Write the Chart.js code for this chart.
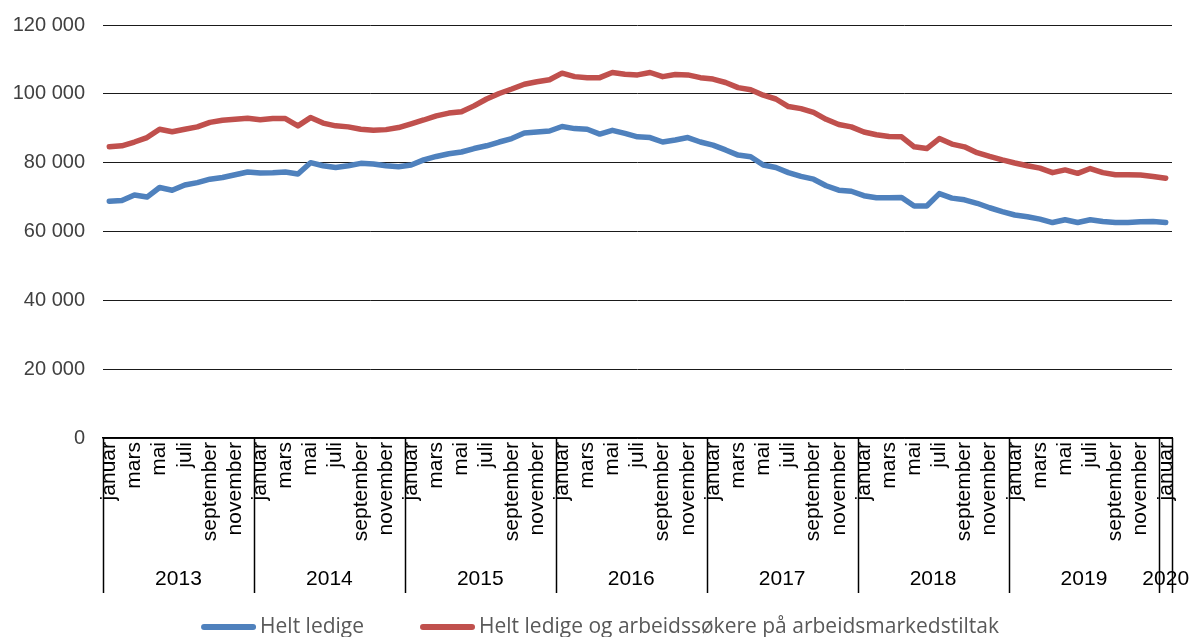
<!DOCTYPE html>
<html>
<head>
<meta charset="utf-8">
<script src="https://cdn.jsdelivr.net/npm/chart.js@4"></script>
<style>
  html, body { margin: 0; padding: 0; background: #fff; }
  #wrap { width: 1190px; height: 637px; position: relative; }
</style>
</head>
<body>
<div id="wrap"><canvas id="chart"></canvas></div>
<script>
// Månedsnavn og år (akse)
const monthNames = ['januar', 'februar', 'mars', 'april', 'mai', 'juni',
    'juli', 'august', 'september', 'oktober', 'november', 'desember'];
const years = ['2013', '2014', '2015', '2016', '2017', '2018', '2019', '2020'];

// Helt ledige, jan 2013 - jan 2020
const heltLedige = [
    68800, 69000, 70600, 70000, 72800, 72000, 73500, 74200, 75200, 75700, 76500, 77300,
    77000, 77100, 77300, 76700, 80000, 79100, 78600, 79100, 79800, 79600, 79100, 78800,
    79300, 80800, 81800, 82600, 83100, 84100, 84900, 86000, 87000, 88600, 88900, 89200,
    90500, 89900, 89700, 88300, 89400, 88500, 87500, 87300, 86000, 86600, 87300, 86000,
    85100, 83700, 82200, 81700, 79300, 78600, 77100, 76000, 75200, 73300, 72000, 71700,
    70400, 69800, 69800, 69900, 67400, 67400, 71000, 69700, 69200, 68200, 66900, 65800,
    64800, 64300, 63600, 62600, 63400, 62600, 63400, 62900, 62600, 62600, 62800, 62900,
    62600
];

// Helt ledige og arbeidssøkere på tiltak
const medTiltak = [
    84600, 84900, 86000, 87300, 89700, 89000, 89700, 90400, 91700, 92300, 92600, 92900,
    92500, 92800, 92800, 90700, 93100, 91500, 90700, 90400, 89700, 89400, 89600, 90200,
    91300, 92400, 93600, 94400, 94800, 96500, 98500, 100100, 101400, 102800, 103500, 104100,
    106000, 105000, 104700, 104700, 106200, 105700, 105500, 106200, 105000, 105600, 105500, 104700,
    104300, 103300, 101800, 101200, 99600, 98500, 96300, 95700, 94600, 92600, 91100, 90400,
    88900, 88100, 87600, 87500, 84600, 84100, 87000, 85400, 84600, 82900, 81800, 80800,
    79900, 79100, 78400, 77100, 77900, 76900, 78300, 77100, 76500, 76500, 76400, 76000,
    75500
];

const seriesNames = ['Helt ledige', 'Helt ledige og arbeidssøkere på arbeidsmarkedstiltak'];
const seriesColors = ['#4F81BD', '#C0504D'];

// Etiketter: en per måned
const labels = heltLedige.map((v, i) => monthNames[i % 12]);

const FONT = "'Liberation Sans', Arial, sans-serif";
const AXIS_H = 155;

// Årsetiketter og skillelinjer under x-aksen
const yearRowPlugin = {
    id: 'yearRow',
    afterDraw(chart) {
        const xs = chart.scales.x;
        const ctx = chart.ctx;
        const step = (xs.right - xs.left) / labels.length;
        const top = xs.top;
        const bottom = xs.top + AXIS_H;
        ctx.save();
        ctx.strokeStyle = '#000';
        ctx.lineWidth = 1.5;
        const bounds = [];
        for (let k = 0; k < years.length; k++) bounds.push(xs.left + k * 12 * step);
        bounds.push(xs.right);
        bounds.forEach(x => {
            ctx.beginPath();
            ctx.moveTo(Math.round(x) + 0.5, top);
            ctx.lineTo(Math.round(x) + 0.5, bottom);
            ctx.stroke();
        });
        ctx.fillStyle = '#000';
        ctx.font = '21px ' + FONT;
        ctx.textAlign = 'center';
        ctx.textBaseline = 'middle';
        years.forEach((y, k) => {
            const cx = (bounds[k] + bounds[k + 1]) / 2;
            ctx.fillText(y, cx, top + 141);
        });
        ctx.restore();
    }
};

// Egen tegnforklaring nederst
const legendPlugin = {
    id: 'bottomLegend',
    afterDraw(chart) {
        const ctx = chart.ctx;
        const lineLen = 55, gapText = 4, gapItem = 56;
        const y = 627;
        ctx.save();
        ctx.font = "21px 'Open Sans', sans-serif";
        ctx.textBaseline = 'middle';
        const widths = seriesNames.map(n => ctx.measureText(n).width);
        let total = 0;
        widths.forEach((w, i) => { total += lineLen + gapText + w + (i > 0 ? gapItem : 0); });
        let x = 600 - total / 2;
        seriesNames.forEach((name, i) => {
            if (i > 0) x += gapItem;
            ctx.strokeStyle = seriesColors[i];
            ctx.lineWidth = 6;
            ctx.lineCap = 'round';
            ctx.beginPath();
            ctx.moveTo(x + 3, y);
            ctx.lineTo(x + lineLen - 3, y);
            ctx.stroke();
            x += lineLen + gapText;
            ctx.fillStyle = '#595959';
            ctx.fillText(name, x, y);
            x += widths[i];
        });
        ctx.restore();
    }
};

new Chart(document.getElementById('chart'), {
    type: 'line',
    data: {
        labels,
        datasets: [{
            label: seriesNames[0],
            data: heltLedige,
            borderColor: seriesColors[0],
            backgroundColor: seriesColors[0],
            borderWidth: 5.5,
            pointRadius: 0,
            borderCapStyle: 'round',
            borderJoinStyle: 'round',
            tension: 0
        }, {
            label: seriesNames[1],
            data: medTiltak,
            borderColor: seriesColors[1],
            backgroundColor: seriesColors[1],
            borderWidth: 5.5,
            pointRadius: 0,
            borderCapStyle: 'round',
            borderJoinStyle: 'round',
            tension: 0
        }]
    },
    options: {
        responsive: true,
        maintainAspectRatio: false,
        animation: false,
        layout: { padding: { top: 25, right: 18, left: 0, bottom: 44 } },
        plugins: {
            tooltip: { enabled: false },
            legend: { display: false }
        },
        scales: {
            x: {
                offset: true,
                grid: { display: false, drawTicks: false },
                border: { display: true, color: '#000', width: 1.5 },
                ticks: {
                    autoSkip: false,
                    minRotation: 90,
                    maxRotation: 90,
                    padding: 4,
                    color: '#000',
                    font: { family: FONT, size: 21 },
                    callback: (val, i) => (i % 2 === 0 ? labels[i] : '')
                },
                afterFit: s => {
                    s.height = AXIS_H;
                    s.paddingLeft = 0;
                    s.paddingRight = 0;
                }
            },
            y: {
                min: 0,
                max: 120000,
                grid: { color: '#1a1a1a', lineWidth: 1, drawTicks: false },
                border: { display: false },
                ticks: {
                    stepSize: 20000,
                    padding: 18,
                    color: '#404040',
                    font: { family: FONT, size: 20 },
                    callback: v => v.toLocaleString('nb-NO').replace(/\s/g, ' ')
                },
                afterFit: s => {
                    s.width = 103;
                    s.paddingTop = 0;
                    s.paddingBottom = 0;
                }
            }
        }
    },
    plugins: [yearRowPlugin, legendPlugin]
});
</script>
</body>
</html>
